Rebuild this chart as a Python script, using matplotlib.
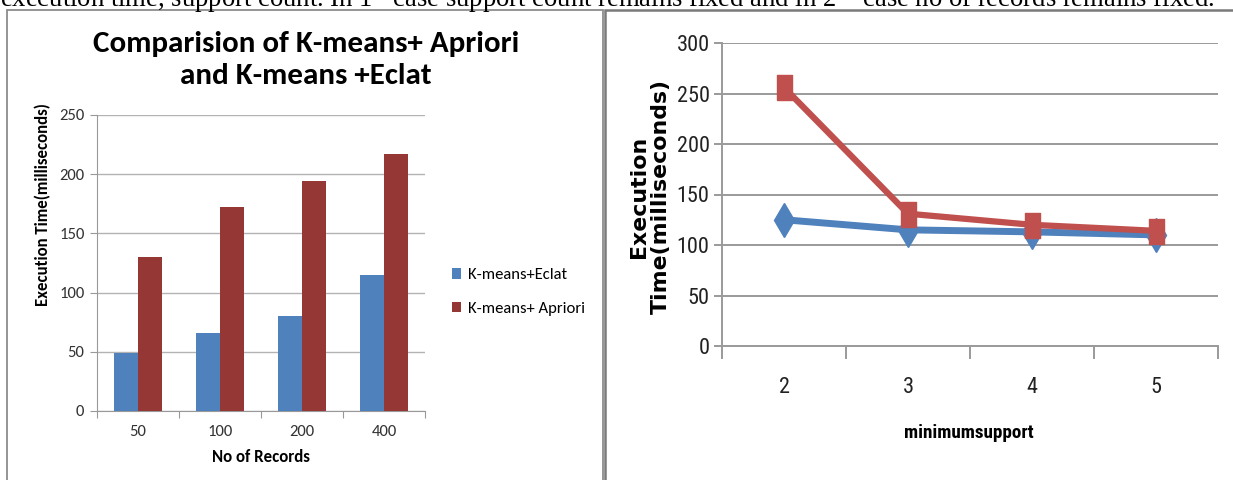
import numpy as np
import matplotlib
matplotlib.use('Agg')
import matplotlib.pyplot as plt
from matplotlib.patches import Rectangle
from matplotlib import font_manager

# left chart: bars by number of records
records = ['50', '100', '200', '400']
eclat_bar = [49, 66, 80, 115]
apriori_bar = [130, 172, 194, 217]

# right chart: lines by minimum support
min_support = ['2', '3', '4', '5']
eclat_line = [125, 115, 113, 110]
apriori_line = [256, 131, 120, 114]

left_yticks = [0, 50, 100, 150, 200, 250]
right_yticks = [0, 50, 100, 150, 200, 250, 300]

BLUE = '#4F81BD'
DARK_RED = '#953735'
RED = '#C0504D'
GRID = '#b3b3b3'

installed = set(f.name for f in font_manager.fontManager.ttflist)

def pick(*names):
    for n in names:
        if n in installed:
            return n
    return 'DejaVu Sans'

CAL = pick('Carlito', 'Lato')
NARROW = pick('Roboto Condensed', 'IBM Plex Sans Condensed', 'Open Sans Condensed',
              'Liberation Sans Narrow', 'Carlito', 'Lato')

W, H = 1233, 480
fig = plt.figure(figsize=(W / 100, H / 100), dpi=100)
fig.patch.set_facecolor('white')

def fx(px):
    return px / W

def fy(py):
    return 1 - py / H

# cut-off caption line from the page above
plt.rcParams['mathtext.fontset'] = 'stix'
fig.text(0.0, fy(7), r'execution time, support count. In 1$^{\mathrm{st}}$ case support count remains fixed '
         r'and in 2$^{\mathrm{nd}}$ case no of records remains fixed.',
         family='Liberation Serif', fontsize=19.2, va='baseline', ha='left', color='black')

# panel frames
fig.patches.append(Rectangle((fx(7), fy(490)), fx(603) - fx(7), fy(10) - fy(490),
                             transform=fig.transFigure, fill=False, edgecolor='#8c8c8c', lw=1.3))
fig.patches.append(Rectangle((fx(605), fy(490)), fx(1245) - fx(605), fy(10) - fy(490),
                             transform=fig.transFigure, fill=False, edgecolor='#7a7a7a', lw=1.8))

# ---------------- left bar chart ----------------
ax1 = fig.add_axes([fx(97), fy(411), fx(425) - fx(97), fy(115) - fy(411)])
x = np.arange(len(records))
bw = 0.29
ax1.bar(x - bw / 2, eclat_bar, bw, color=BLUE, label='K-means+Eclat', zorder=3)
ax1.bar(x + bw / 2, apriori_bar, bw, color=DARK_RED, label='K-means+ Apriori', zorder=3)
ax1.set_xlim(-0.5, len(records) - 0.5)
ax1.set_ylim(0, 250)
ax1.set_yticks(left_yticks)
ax1.set_xticks(np.arange(len(records) + 1) - 0.5, labels=[''] * (len(records) + 1))
ax1.set_xticks(x, labels=records, minor=True)
ax1.grid(True, axis='y', color=GRID, lw=1.0, zorder=0)
for s in ['top', 'right']:
    ax1.spines[s].set_visible(False)
for s in ['left', 'bottom']:
    ax1.spines[s].set_color('#999999')
ax1.tick_params(axis='y', which='major', length=5, color='#999999', labelsize=12,
                labelcolor='#333333', pad=4)
ax1.tick_params(axis='x', which='major', length=5, color='#999999')
ax1.tick_params(axis='x', which='minor', length=0, labelsize=12, labelcolor='#333333', pad=10)
for lab in ax1.get_yticklabels() + ax1.get_xticklabels(minor=True):
    lab.set_family(CAL)

fig.text(fx(306), fy(60), 'Comparision of K-means+ Apriori\nand K-means +Eclat',
         family=CAL, weight='bold', fontsize=22.3, ha='center', va='center', linespacing=1.25)
fig.text(fx(43), fy(205), 'Execution Time(milliseconds)', family=CAL, weight='bold',
         fontsize=12.1, rotation=90, ha='center', va='center')
fig.text(fx(261), fy(457), 'No of Records', family=CAL, weight='bold',
         fontsize=12.2, ha='center', va='center')
fig.legend(*ax1.get_legend_handles_labels(), loc='center left',
           bbox_to_anchor=(fx(437), fy(292)), frameon=False,
           prop={'family': CAL, 'size': 12}, handlelength=0.55, handleheight=0.55,
           handletextpad=0.4, labelspacing=1.15)

# ---------------- right line chart ----------------
ax2 = fig.add_axes([fx(722), fy(346), fx(1218) - fx(722), fy(43) - fy(346)])
xs = np.arange(len(min_support))
rect = [(-0.3, -0.5), (0.3, -0.5), (0.3, 0.5), (-0.3, 0.5), (-0.3, -0.5)]
ax2.plot(xs, eclat_line, color=BLUE, lw=5, marker='d', ms=17, mfc=BLUE, mec=BLUE,
         zorder=3, solid_capstyle='round')
ax2.plot(xs, apriori_line, color=RED, lw=4.5, marker=rect, ms=18, mfc=RED, mec=RED,
         zorder=4, solid_capstyle='round')
ax2.set_xlim(-0.5, len(min_support) - 0.5)
ax2.set_ylim(0, 300)
ax2.set_yticks(right_yticks)
ax2.set_xticks(np.arange(len(min_support) + 1) - 0.5, labels=[''] * (len(min_support) + 1))
ax2.set_xticks(xs, labels=min_support, minor=True)
ax2.grid(True, axis='y', color='#9a9a9a', lw=1.4, zorder=0)
for s in ['top', 'right']:
    ax2.spines[s].set_visible(False)
for s in ['left', 'bottom']:
    ax2.spines[s].set_color('#9a9a9a')
    ax2.spines[s].set_linewidth(1.4)
ax2.tick_params(axis='y', which='major', length=6, width=1.4, color='#9a9a9a', labelsize=16,
                labelcolor='#222222', pad=3)
ax2.tick_params(axis='x', which='major', length=9, width=1.4, color='#9a9a9a')
ax2.tick_params(axis='x', which='minor', length=0, labelsize=16, labelcolor='#222222', pad=22)
for lab in ax2.get_yticklabels() + ax2.get_xticklabels(minor=True):
    lab.set_family(NARROW)

fig.text(fx(650), fy(197), 'Execution\nTime(milliseconds)', family='DejaVu Sans', weight='bold',
         fontsize=15.8, rotation=90, ha='center', va='center', multialignment='center',
         linespacing=1.08)
fig.text(fx(969), fy(433), 'minimumsupport', family=NARROW,
         weight='bold', fontsize=13.8, ha='center', va='center')

fig.savefig('out.png', dpi=100)
